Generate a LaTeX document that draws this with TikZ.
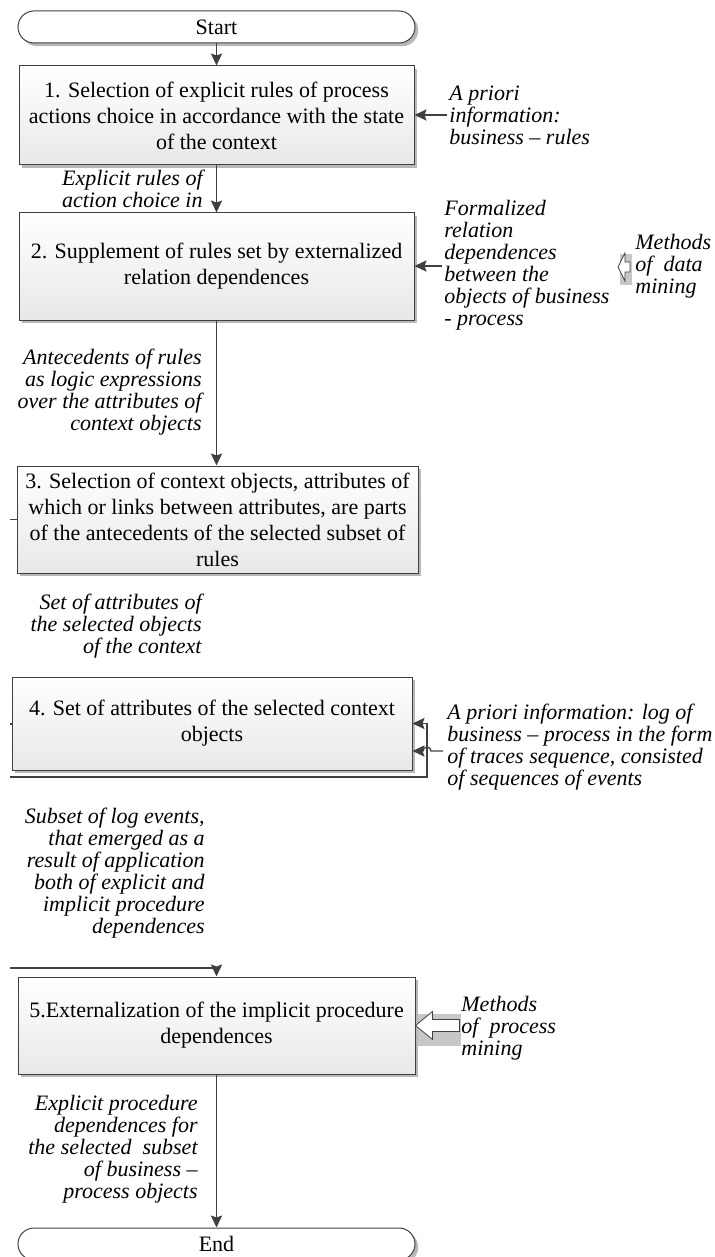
\documentclass[tikz,border=0pt]{standalone}
\usepackage{fontspec}
\setmainfont{Liberation Serif}
\usetikzlibrary{arrows.meta,shadows}

\definecolor{linegray}{RGB}{64,64,64}
\tikzset{
    stepbox/.style={draw=linegray, line width=0.5pt, top color=white, bottom color=black!9,
        drop shadow={shadow xshift=1.6pt, shadow yshift=-1.6pt, fill=black!28, opacity=1},
        align=center, inner sep=0pt, font=\fontsize{11}{13}\selectfont},
    termbox/.style={stepbox, top color=white, bottom color=white, rounded corners=8pt, minimum width=198.5pt, minimum height=16pt},
    note/.style={inner sep=0pt, font=\fontsize{11}{11}\selectfont\itshape},
    flow/.style={draw=linegray, line width=0.65pt, -{Stealth[length=6pt,width=5.6pt,inset=1pt]}},
    wire/.style={draw=linegray, line width=0.65pt},
    hollow/.style={draw=linegray, line width=0.4pt, fill=white},
}

\begin{document}
\begin{tikzpicture}[x=0.5pt,y=-0.5pt]
                \useasboundingbox (0,0) rectangle (714,1257);

                % main steps
                \node[termbox] (start) at (216.5,27) {Start};
                \node[stepbox, minimum width=197.5pt, minimum height=49.5pt] (sel) at (216.5,115.5)
                    {1. Selection of explicit rules of process\\actions choice in accordance with the state\\of the context};
                \node[stepbox, minimum width=197.5pt, minimum height=53.5pt] (supp) at (216.5,266.5)
                    {2. Supplement of rules set by externalized\\relation dependences};
                \node[stepbox, minimum width=200.5pt, minimum height=53.5pt] (ctx) at (217.5,519.5)
                    {3. Selection of context objects, attributes of\\which or links between attributes, are parts\\of the antecedents of the selected subset of\\rules};
                \node[stepbox, minimum width=200pt, minimum height=46.5pt] (attr) at (212,723.5)
                    {4. Set of attributes of the selected context\\objects};
                \node[stepbox, minimum width=198.5pt, minimum height=48.5pt] (ext) at (216.5,1025.5)
                    {5.Externalization of the implicit procedure\\dependences};
                \node[termbox] (end) at (216.5,1244) {End};

                % flow labels
                \node[note, align=right, anchor=east] (rulesout) at (203,189) {Explicit rules of\\action choice in};
                \node[note, align=right, anchor=east] (antec) at (202,392.5)
                    {Antecedents of rules\\as logic expressions\\over the attributes of\\context objects};
                \node[note, align=right, anchor=east] (attrset) at (202,626)
                    {Set of attributes of\\the selected objects\\of the context};
                \node[note, align=right, anchor=east] (logsub) at (205,873)
                    {Subset of log events,\\that emerged as a\\result of application\\both of explicit and\\implicit procedure\\dependences};
                \node[note, align=right, anchor=east] (procout) at (198,1149.5)
                    {Explicit procedure\\dependences for\\the selected\ \ subset\\of business --\\process objects};

                % inputs from the right
                \node[note, align=left, anchor=west] (bizrules) at (449,115) {A priori\\information:\\business -- rules};
                \node[note, align=left, anchor=west] (reldep) at (444,265.5)
                    {Formalized\\relation\\dependences\\between the\\objects of business\\- process};
                \node[note, align=left, anchor=west] (dmining) at (635,266.5) {Methods\\of\ \ data\\mining};
                \node[note, align=left, anchor=west] (eventlog) at (447,747)
                    {A priori information: log of\\business -- process in the form\\of traces sequence, consisted\\of sequences of events};
                \node[note, align=left, anchor=west] (pmining) at (461,1028) {Methods\\of\ \ process\\mining};

                \draw[flow] (start) -- (sel);
                \draw[flow] (sel) -- (supp);
                \draw[flow] (supp.south) -- (supp.south |- ctx.north);
                \draw[flow] (ext) -- (end);

                \coordinate (in1) at (447,115);
                \coordinate (in2) at (442,266);
                \draw[flow] (in1) -- (in1 -| sel.east);
                \draw[flow] (in2) -- (in2 -| supp.east);

                % connectors cut at the left edge
                \coordinate (left3) at (10,519.5);
                \coordinate (left4) at (10,724);
                \coordinate (left5) at (10,968);
                \coordinate (loopL) at (10,777);
                \coordinate (loopR) at (427,777);
                \draw[wire] (left3) -- (ctx.west);
                \draw[wire] (left4) -- (left4 -| attr.west);
                \draw[flow] (loopL) -- (loopR) |- (attr.east);
                \draw[flow] (left5) -| (ext.north);

                % log input, hopping over the loop line
                \coordinate (in4) at (443,751);
                \coordinate (hop) at (427,751);
                \draw[flow] (in4) -- ([xshift=2pt]hop) arc[start angle=0, end angle=-180, radius=4] -- (hop -| attr.east);

                % mining methods
                \fill[black!22] (620,254) rectangle (632,285);
                \draw[hollow] (618,267) -- (625,253) -- (625,262) -- (630,262) -- (630,272) -- (625,272) -- (625,281) -- cycle;
                \fill[black!22] (418,1014) rectangle (461,1046);
                \draw[hollow] (ext.east) -- ++(17,-14) -- ++(0,8) -- ++(27,0) -- ++(0,12) -- ++(-27,0) -- ++(0,8) -- cycle;
\end{tikzpicture}
\end{document}
